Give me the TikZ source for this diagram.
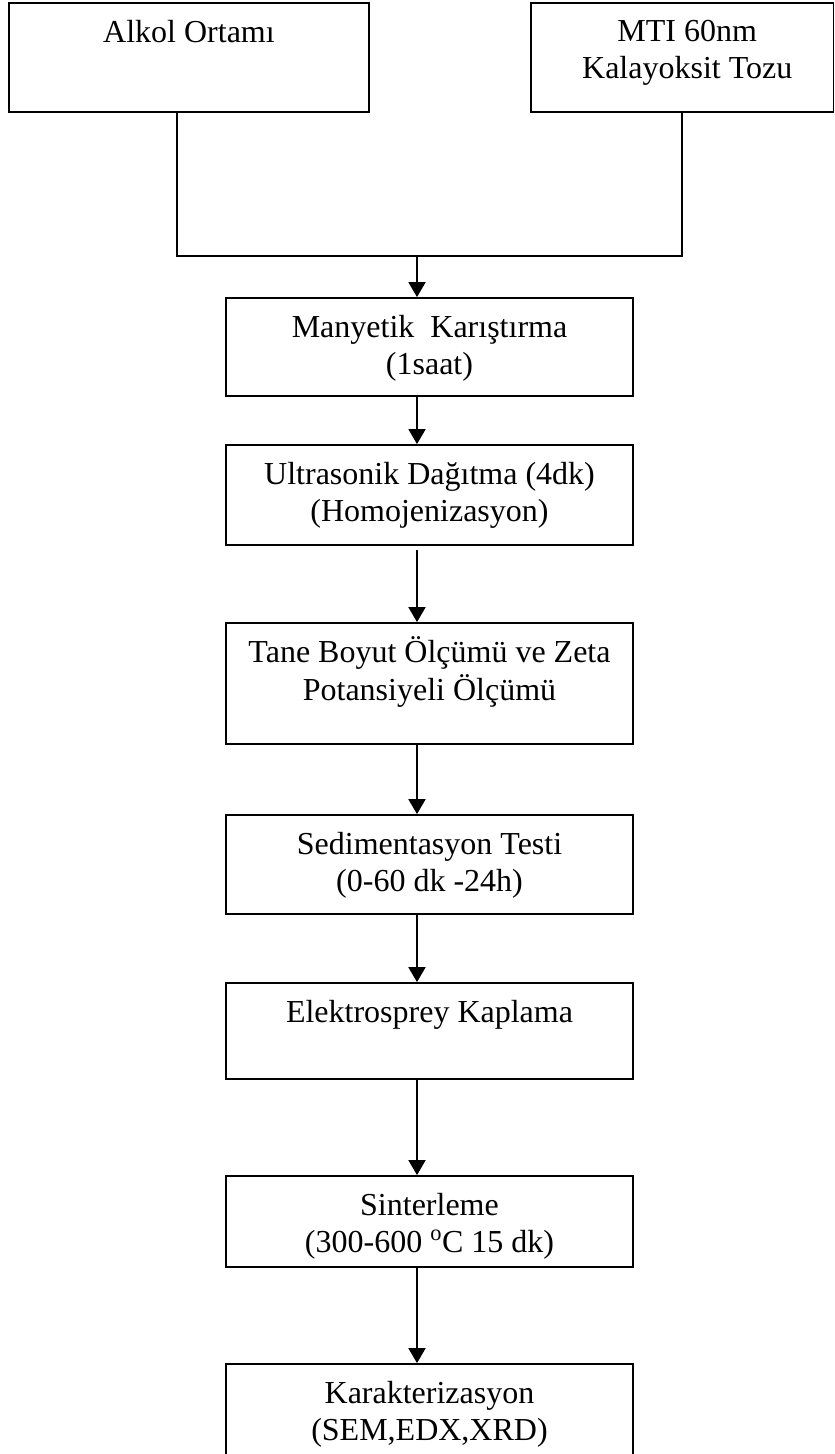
\documentclass[tikz,border=0pt]{standalone}
\usepackage{fontspec}
\setmainfont{Liberation Serif}
\usetikzlibrary{arrows.meta}
\begin{document}
\begin{tikzpicture}[x=1pt,y=-1pt]
\tikzset{
  stepbox/.style={draw, line width=1.8pt, inner sep=0pt, minimum width=407pt},
  srcbox/.style={draw, line width=1.8pt, inner sep=0pt},
  lbl/.style={font=\fontsize{32}{37}\selectfont, align=center, inner sep=0pt, anchor=north},
  link/.style={line width=1.8pt},
  flow/.style={line width=1.8pt, -{Triangle[width=17pt,length=15pt]}}
}
\clip (0,0) rectangle (835,1454);

% source boxes
\node[srcbox, minimum width=360pt, minimum height=109pt] (src1) at (189,57.5) {};
\node[srcbox, minimum width=302.5pt, minimum height=109pt] (src2) at (682.25,57.5) {};
\node[lbl] (t1) at ([yshift=-14pt]src1.north) {\strut Alkol Ortamı};
\node[lbl] (t2) at ([xshift=5pt,yshift=-13pt]src2.north) {\strut MTI 60nm\\Kalayoksit Tozu};

% process steps
\node[stepbox, minimum height=98pt]  (s1) at (429.5,347)    {};
\node[stepbox, minimum height=100pt] (s2) at (429.5,495)    {};
\node[stepbox, minimum height=121pt] (s3) at (429.5,683.5)  {};
\node[stepbox, minimum height=99pt]  (s4) at (429.5,864.5)  {};
\node[stepbox, minimum height=96pt]  (s5) at (429.5,1031)   {};
\node[stepbox, minimum height=91pt]  (s6) at (429.5,1221.5) {};
\node[stepbox, minimum height=120pt] (s7) at (429.5,1424)   {};

\node[lbl] (l1) at ([yshift=-14pt]s1.north) {\strut Manyetik\ \ Karıştırma\\(1saat)};
\node[lbl] (l2) at ([yshift=-14pt]s2.north) {\strut Ultrasonik Dağıtma (4dk)\\(Homojenizasyon)};
\node[lbl] (l3) at ([yshift=-14pt]s3.north) {\strut Tane Boyut Ölçümü ve Zeta\\Potansiyeli Ölçümü};
\node[lbl] (l4) at ([yshift=-14pt]s4.north) {\strut Sedimentasyon Testi\\(0-60 dk -24h)};
\node[lbl] (l5) at ([yshift=-14pt]s5.north) {\strut Elektrosprey Kaplama};
\node[lbl] (l6) at ([yshift=-14pt]s6.north) {\strut Sinterleme\\(300-600 \raisebox{3pt}{\textsuperscript{o}}C 15 dk)};
\node[lbl] (l7) at ([yshift=-14pt]s7.north) {\strut Karakterizasyon\\(SEM,EDX,XRD)};

% connector guides
\coordinate (lx) at (177,0);
\coordinate (rx) at (682,0);
\coordinate (jn) at (417,256);

% merge of the two sources
\draw[link] (src1.south -| lx) -- (lx |- jn) -- (rx |- jn) -- (src2.south -| rx);
\draw[flow] (jn) -- (s1.north -| jn);

% step sequence
\draw[flow] (s1.south -| jn) -- (s2.north -| jn);
\draw[flow] (s2.south -| jn) ++(0,4) -- (s3.north -| jn);
\draw[flow] (s3.south -| jn) -- (s4.north -| jn);
\draw[flow] (s4.south -| jn) -- (s5.north -| jn);
\draw[flow] (s5.south -| jn) -- (s6.north -| jn);
\draw[flow] (s6.south -| jn) -- (s7.north -| jn);
\end{tikzpicture}
\end{document}
